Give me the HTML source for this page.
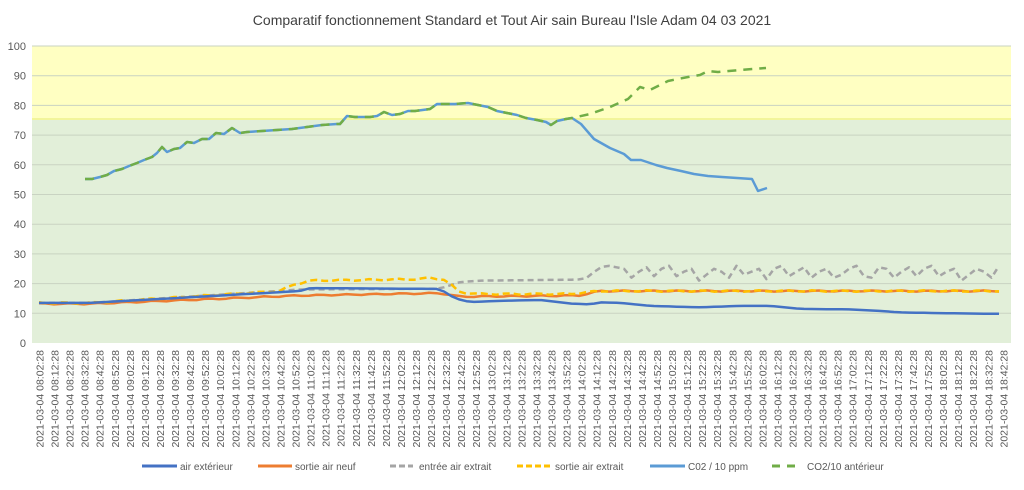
<!DOCTYPE html>
<html><head><meta charset="utf-8"><style>
body{margin:0;background:#fff;}
svg text{font-family:"Liberation Sans",sans-serif;fill:#595959;}
</style></head><body>
<svg id="s" width="1024" height="485" xmlns="http://www.w3.org/2000/svg">
<rect x="0" y="0" width="1024" height="485" fill="#fff"/>
<text x="512" y="25" text-anchor="middle" font-size="14" style="fill:#404040">Comparatif fonctionnement Standard et Tout Air sain Bureau l'Isle Adam 04 03 2021</text>
<rect x="32" y="46" width="979" height="73" fill="#ffffc2"/>
<rect x="32" y="119" width="979" height="224" fill="#e2efd9"/>
<line x1="32" y1="119" x2="1011" y2="119" stroke="#f2f59a" stroke-width="2"/>
<g id="grid" stroke="#c9d3c2" stroke-width="1"></g>
<g id="ylab" font-size="11" text-anchor="end"></g>
<g id="xlab" font-size="10.5"></g>
<g id="series" fill="none" stroke-linejoin="round"></g>
<g font-size="10">
<line x1="142" y1="466" x2="177" y2="466" stroke="#4472C4" stroke-width="3"/><text x="180" y="470">air extérieur</text>
<line x1="258" y1="466" x2="292" y2="466" stroke="#ED7D31" stroke-width="3"/><text x="295" y="470">sortie air neuf</text>
<line x1="390" y1="466" x2="413" y2="466" stroke="#A5A5A5" stroke-width="3" stroke-dasharray="6,3"/><text x="419" y="470">entrée air extrait</text>
<line x1="517" y1="466" x2="550" y2="466" stroke="#FFC000" stroke-width="3" stroke-dasharray="6,3"/><text x="555" y="470">sortie air extrait</text>
<line x1="650" y1="466" x2="685" y2="466" stroke="#5B9BD5" stroke-width="3"/><text x="688" y="470">C02 / 10 ppm</text>
<line x1="772" y1="466" x2="802" y2="466" stroke="#70AD47" stroke-width="3" stroke-dasharray="8,7"/><text x="807" y="470">CO2/10 antérieur</text>
</g>
</svg>
<script>
var NS="http://www.w3.org/2000/svg";
function el(p,t,a,txt){var e=document.createElementNS(NS,t);for(var k in a)e.setAttribute(k,a[k]);if(txt!==undefined)e.textContent=txt;document.getElementById(p).appendChild(e);return e;}
function Y(v){return 343-v*2.97;}
for(var v=0;v<=100;v+=10){var y=Y(v);if(v>0)el("grid","line",{x1:32,x2:1011,y1:y,y2:y});el("ylab","text",{x:26,y:y+4},String(v));}
for(var i=0;i<65;i++){var m=8*60+2+i*10;var h=Math.floor(m/60),mm=m%60;var s="2021-03-04 "+(h<10?"0":"")+h+":"+(mm<10?"0":"")+mm+":28";var x=39.5+i*15.06+4;el("xlab","text",{x:0,y:0,transform:"translate("+x+",350) rotate(-90)","text-anchor":"end"},s);}
function interp(keys){var pts=[];for(var x=39;x<=1005;x+=7.5){var v;if(x<=keys[0][0])v=keys[0][1];else if(x>=keys[keys.length-1][0])v=keys[keys.length-1][1];else{for(var j=0;j<keys.length-1;j++){if(x>=keys[j][0]&&x<=keys[j+1][0]){var t=(x-keys[j][0])/(keys[j+1][0]-keys[j][0]);v=keys[j][1]+t*(keys[j+1][1]-keys[j][1]);break;}}}pts.push([x,v]);}return pts;}
function line(pts,color,dash,w){var d=pts.map(function(p){return p[0].toFixed(1)+","+Y(p[1]).toFixed(1);}).join(" ");var a={points:d,stroke:color,"stroke-width":w||2.5};if(dash)a["stroke-dasharray"]=dash;el("series","polyline",a);}
function wig(pts,amp,seed){return pts.map(function(p,i){return [p[0],p[1]+amp*Math.sin(i*1.7+seed)];});}
line(wig(interp([[39,13.2],[90,13.2],[300,16],[440,16.8],[460,15.6],[580,16],[600,17.5],[1005,17.5],[1008,16.8]]),0.2,1),"#ED7D31");
var g=interp([[39,13.5],[90,13.5],[300,18],[440,18.3],[460,20.5],[480,21],[570,21.3],[585,21.5],[600,25.5],[610,26]]);
var osc=[25.5,25,22,24,25.5,22.5,25,26,22.5,24,25,21,23,25,24,22,26,23,24,25,21.5,25,26,22.5,24,25.5,22,24,25,22,23,25,26,22.5,22];var k=0;g=g.map(function(p){if(p[0]>612){var v=osc[k%osc.length];k++;return [p[0],v];}return p;});
line(g,"#A5A5A5","6,4");
line(wig(interp([[39,13.5],[90,13.5],[280,17.5],[292,19.5],[310,21],[420,21.5],[430,22],[445,21.3],[460,17],[480,16.5],[570,16.5],[600,17.5],[1005,17.5],[1008,16.8]]),0.25,2),"#FFC000","7,4");
line(interp([[39,13.5],[90,13.5],[300,17.5],[310,18.5],[440,18.2],[455,15],[470,13.8],[500,14.2],[540,14.5],[570,13.3],[590,13],[600,13.7],[620,13.5],[650,12.5],[700,12],[740,12.5],[770,12.5],[800,11.5],[850,11.3],[880,10.8],[900,10.3],[950,10],[1005,9.8]]),"#4472C4");
var pc=[[85,179],[92,179],[100,177],[107,175],[114,171],[122,169],[129,166],[137,163],[144,160],[152,157],[157,153],[162,147],[167,152],[174,149],[180,148],[187,142],[194,143],[202,139],[209,139],[216,133],[224,134],[232,128],[240,133],[247,132],[262,131],[277,130],[292,129],[307,127],[322,125],[337,124],[340,124],[347,116],[355,117],[370,117],[377,116],[384,112],[392,115],[400,114],[408,111],[415,111],[430,109],[437,104],[455,104],[468,103],[478,105],[488,107],[497,111],[507,113],[517,115],[526,118],[537,120],[546,122],[551,125],[557,121],[566,119],[572,118]];
var pb=pc.concat([[581,124],[594,139],[610,148],[624,154],[631,160],[641,160],[656,165],[667,168],[681,171],[694,174],[708,176],[722,177],[737,178],[752,179],[758,191],[767,188]]);
var pg=pc.concat([[590,114],[610,107],[628,99],[640,87],[650,90],[668,81],[688,77],[700,75],[708,71],[718,72],[740,70],[766,68]]);
function pl(pts,color,dash){var a={points:pts.map(function(p){return p.join(",");}).join(" "),stroke:color,"stroke-width":2.5};if(dash)a["stroke-dasharray"]=dash;el("series","polyline",a);}
pl(pb,"#5B9BD5");
pl(pg,"#70AD47","9,7");
</script>
</body></html>
